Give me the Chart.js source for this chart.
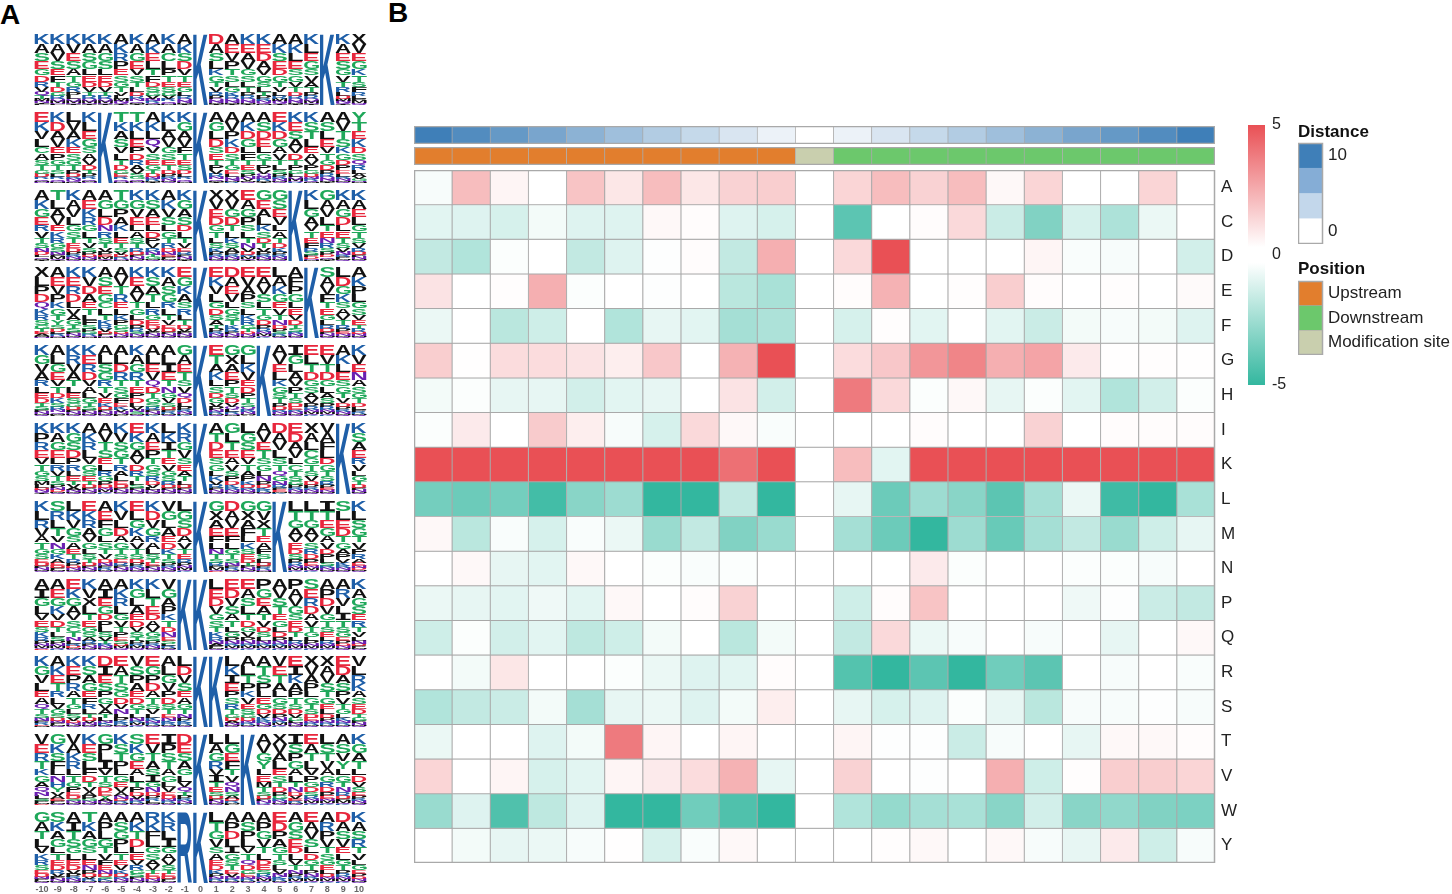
<!DOCTYPE html>
<html>
<head>
<meta charset="utf-8">
<script src="https://cdn.jsdelivr.net/npm/chart.js@4"></script>
<style>
  html, body { margin: 0; background: #fff; width: 1452px; height: 894px; overflow: hidden; }
  canvas { position: absolute; }
  .panel { position: absolute; font: bold 28px "Liberation Sans", sans-serif; color: #000; line-height: 28px; }
</style>
</head>
<body>
<div class="panel" style="left:0;top:1px">A</div>
<div class="panel" style="left:388px;top:-1px">B</div>
<script>
// heatmap, one array per amino acid, columns -10 .. 10
const residues = ["A","C","D","E","F","G","H","I","K","L","M","N","P","Q","R","S","T","V","W","Y"];
const positions = [-10,-9,-8,-7,-6,-5,-4,-3,-2,-1,0,1,2,3,4,5,6,7,8,9,10];
const valuesA = [-0.2,1.9,0.3,0,1.7,0.7,1.9,0.7,1.3,1.4,0,1.2,1.9,1.3,1.9,0.2,1.2,0,0,1.2,0];
const valuesC = [-0.7,-0.8,-1,-0.3,-0.8,-0.8,0.2,0.1,-0.8,-1,0,-4,0,0.1,1.1,-1.3,-3.1,-1,-2,-0.5,0];
const valuesD = [-1.5,-1.9,-0.1,0,-1.5,-0.8,-0.05,0.1,-1.5,2.3,0,1.1,5,0,0,0,0.3,-0.15,-0.2,0,-1.1];
const valuesE = [0.8,0,0.05,2.3,-0.1,0,-0.05,0,-1.7,-2.1,0,0.1,2.2,0,0.05,1.4,0.1,0,0.05,0,0.15];
const valuesF = [-0.5,0,-1.7,-1.2,0,-1.9,-0.6,-0.7,-2.2,-2,0,-1,0.05,-0.7,0,-0.7,-1.3,-0.3,-0.2,-0.3,-0.8];
const valuesG = [1.4,0.02,1,1,0.8,0.5,1.6,0,2.2,5,0,1,1.6,3,3.5,2.3,2.6,0.6,0.02,0.05,0.02];
const valuesH = [-0.3,-0.1,-0.6,-0.6,-1.1,-0.7,-0.6,0,0.8,-1.1,0,3.8,1.1,-0.1,0.2,-0.6,-0.1,-0.7,-1.9,-1.1,-0.1];
const valuesI = [-0.1,0.6,0,1.5,0.5,-0.2,-1,1.1,0.2,-0.15,0,0,0,0.1,0,0,1.3,0,0.1,0.1,0.1];
const valuesK = [5,5,5,5,5,5,5,5,4.1,5,0,1.9,-0.7,5,5,5,5,5,5,5,5];
const valuesL = [-3.4,-3.6,-3.4,-4.6,-2.9,-2.4,-5,-5,-1.5,-5,0,-0.6,-3.6,-2.4,-2.9,-4,-2.2,-0.5,-4.7,-5,-2.1];
const valuesM = [0.2,-1.7,-0.15,-1,-0.15,-0.5,-2.5,-1.5,-3.1,-2.5,0,-2.2,-3.6,-5,-2.4,-3.7,-2.2,-1.5,-2.5,-1.2,-0.6];
const valuesN = [0,0.2,-0.6,-0.7,0.2,0,-0.1,-0.15,-0.1,0,0,0,0,0.6,-0.1,0,0,-0.1,-0.1,-0.2,0];
const valuesP = [-0.5,-0.6,-0.7,-0.4,-0.7,0.2,0,0.1,1.3,0,0,-1.2,0.1,1.7,0,0,0,-0.4,-0.05,-1.3,-1.5];
const valuesQ = [-1.2,-0.1,-1.1,-0.7,-1.6,-1.2,-0.3,0,-1.7,-0.3,0,-1.5,1.1,-0.5,-0.2,0,-0.2,0,-0.6,0,0.2];
const valuesR = [0,-0.3,0.7,0,0,-0.1,-0.5,-0.8,-0.7,0.1,0,-4.2,-5,-4,-5,-3.5,-4,0,-0.2,0,-0.15];
const valuesS = [-1.9,-1.5,-1.3,-0.3,-2.2,-0.6,-0.5,-0.8,-0.3,0.5,0,-0.6,-1,-0.8,-0.1,-0.6,-1.7,-0.2,-0.2,-0.05,-0.2];
const valuesT = [-0.5,0,0,-0.8,-0.3,3.8,0.3,0,0.3,0,0,0.3,-0.05,-0.05,-1.3,-0.2,0,-0.6,0.2,0.2,0.1];
const valuesV = [1.2,0,0.3,-1,-0.7,0.3,0.6,1,2.2,-0.6,0,1.3,0,-0.05,0,2.3,-1.2,0.05,1.4,1.4,1.2];
const valuesW = [-2.5,-0.8,-4.3,-1.6,-0.8,-5,-5,-3.5,-4.3,-5,0,-1.9,-2.6,-2.2,-2.1,-2.9,-1.1,-2.9,-2.7,-3.1,-3.2];
const valuesY = [0,-0.3,-0.6,-0.5,-0.2,0.02,-1,-0.15,0.2,0,0,0,0.05,0.2,0,0.2,-0.2,-0.6,0.6,-1.2,-0.2];
const heatValues = [valuesA,valuesC,valuesD,valuesE,valuesF,valuesG,valuesH,valuesI,valuesK,valuesL,valuesM,valuesN,valuesP,valuesQ,valuesR,valuesS,valuesT,valuesV,valuesW,valuesY];

// annotation strips above the heatmap
const distance = [10,9,8,7,6,5,4,3,2,1,0,1,2,3,4,5,6,7,8,9,10];
const position = ["U","U","U","U","U","U","U","U","U","U","M","D","D","D","D","D","D","D","D","D","D"];
const distanceLegend = ["10","","","0"];
const distanceLegendColors = ["#3F7FB8","#85ADD6","#C3D7EB","#FFFFFF"];
const positionLegend = ["Upstream","Downstream","Modification site"];
const positionColors = { U: "#E27E2D", D: "#6CC86C", M: "#C9CFAE" };

// sequence logos: one stack per position, letters from top to bottom
const logo1 = "KASEGDRVQTMNIL KAVSEFTDGRQMNL KVESATGRPLQMNI KASGLEDVTRQMNI KAGSLEDVTRQMNI AKRPESGTVLMNQI KAGEVSTLDRNQMI AKELTFDSGVNRQM KACLPTESGVRQNM AKSDVTEGLRQNMI K DASLKGTVRPQNMI AEVPTSLGKRQNMI KEAVGSLTPRQNMI KEDAVGSLTPRNQM AKSEDGTVLRMNQI AKLESGVTDRQNMI KLEGSVATPRQMNI K KAESGVTRLDMNQI XVEGKTSFRLPMNQ";
const logo2 = "EKVLCASTGDRQMN KDAVEPGTSLRQNM LVAKESGTPDRNQM KLEGSAVDTPRQMN K TKASVLTDGERQNM TKLEPDRAVSGQMN AKLQVSEGTDNRMI KLAVGSETDPRNMQ KGAVFTESDLRQNM K AGLDSETPVRNQMI AVPKDSTGELQNMR AKDGLFTESPNVMQ ASDELGTPVQNRMI EKDGAVTLSPRNMQ KESAVDTPGLQMNR KSTLEAVPGDNRQM ASLEVTGDPRQNMI AVTSKGDPELRNMQ YTEKDSQRLAVGNM";
const logo3 = "AKGERVTSNDLQMI TLAVEKRGSNPMQI KAVLGSTEDPRNMQ AEKRGLTVSPDNMQ AGLDNRSTVPEMQI TGPAKLETSVDRNM KGVELASTRDPNMQ KSAELDPVRNTGMQ AKVSLGTRDNEPMQ KGASDLTVERPNMI K XVEDGTLSKPRNMQ XVGDTLKSAPRNMQ EAGPSLTNVDRMQI GEALKSDTVPRNMQ GSEVLATDKPRNMQ K KLGAVTEFRSPDNM GAVLTENRSPDQMI KAGDLETSVNRPMQ KAELGTSVRDPNMQ";
const logo4 = "XLPDQKRSGTEAMN AEVPKGTYSDLRNM KERDLVAGTSPNMQ KVDAETLFSPGRNM ASEGCLTKRVDPNM AVTRELKPGSDNMQ KEAVTGLDPRSNMQ KSATLRGEDVPNMQ KASGRLTVEDPNMQ EGKASRLTDVPNMQ K EKVLGDSATPRNMQ DAEVLGSTKRPNMQ EVAPSLKRGTDNMQ EAVSLTGDPRNMQK LAKGEVTNDPSRMQ AFPGLEVDTSRNMQ K SAVFTEGLRDPNMQ LDGKSAVTRPENMQ AKPLGSVETRDNMQ";
const logo5 = "KGVARLEDTSPNMQ ALGEVTDKSRNQMP KRVATLESGDPNMQ KERDVALGTSPNMQ ALSGRTVEKDPNMQ ALDRTSGFEKVNMP KAGRTEPDLVNSMQ ALEVQDTGSRPNMK ALIETNGVSDPRMQ GAETSVQDLPRNMK K ETAKLSDGVPNRMQ GXAEPTSDVQLRNM GLKVEDPTSQRNMA K AVELKGSTPDRNMQ IGLAVPTSDERNMQ ELTDGSAVPRNMQK EVTDGLASPRNMQK AKLESGTVDPRNMQ KVENASGTDLPRMQ";
const logo6 = "KPREVTGSMLDNQI KAGELRVTSPNDMQ KGSDPRLETVANMQ AKRLVGSETDPNMQ AVTSELRGPDNMQK KVSGTRALEDPNMQ EKGAVDRTLSPNMQ KAEPTGSRDVLNMQ LKITEVGSRDPNMQ KRGVSEATLDPNMQ K ATDESGLKVRPNMQ GLTEAVSPDKRNMQ LGSEVTAPKDRNMQ AVETSGLNPDKRMQ DAVLSTQGNRPEMK EDAVLCTSGPRNMQ XALCGTSVDPRNMQ VAFLDGTSRPENMQ K KSAERVLGTDPNMQ";
const logo7 = "KLRVATGSEDPNMQ SRLTVNGKAEDPMQ LKVGSAETRPDNMQ EKRAVGLSTDPNMQ AEFGLSTVDNPRMQ KVLDAGTSERPNMQ ELGKAVTSDPRNMQ KDVGRALSTEPNMQ VGLAEDKTSPRNMQ LGSDAVTERPNMQK K GXAEFLNTSRPMQD DAVEFLGTSNPRMQ GXAFLKSEDTPNMQ GVXTEAFSLDPRNM K LTGAVEDSPRNMQK LTGAVSRDPENMQK ITEGAVDPLSRNMQ SLEDTGAPVKRNMQ KLSGTVPRAENDMQ";
const logo8 = "AIGLVESKRPNMQD AEGKVDTLSPNMQR EKGAVSCTNLRDMQ KVXLTEGSARPNMQ AIEGDPLSVTRNMQ AKRLGVTPESDMNQ KGLAEDVSTPRMNQ KLTEDAVGSPRNMQ VGAPKTDNESLRMQ K K LEDVGSTKRNAPMQ EDVSATLGPNRMQK EASLTDGVPNRMQK PGEATVDSLNRMQK AVSTEGLDPNRMQK PAVGSEDTLRNMQK SERDAVTGLPNMQK APDVGTSELRNMQK ARVLITSGEPDNMQ KAGSERTVLNDPMQ";
const logo9 = "KGVLEAQTSNPRDM AKETRLVGSDNPMQ KEPRATGLSVDNMQ KSAGEFRLTDVNMQ DIESPGVATLNKMQ EATSGDVNLPKRMQ VSPAEDGTLNRMQK EGPDATSVLKNRMQ ALGVPDSTENKRMQ LDVSEAGTNPKRMQ K K LKIEPSRTGDANMQ ALTPKVESGDNRMQ ATSPLEGDVKRNMQ VETALGSDPNRMQK EIKAPTSDVGLNMQ XVAPLGTSDENRMQ XAVSTGELDPNRMQ EDASPVTGLKNRMQ VLRKASEDTGPNMQ";
const logo10 = "VERTKGAQNLSPMD GKSFLNHYVAEPMQ VAKRLTGPEDSNMQ KESLFDTVAPGNMQ GPLIVTSDEYANMQ KSTPLGEVANDRMQ SKGEALTPDVNRMQ EVTASIGNDPRLMQ IPSTAGLVEDNRMQ DESAGLVQTPRNMK K LAGRVITESDPNMQ LGEFTVQNSADRMP K AVGYLEMTSDPNRQ XVALESTDPGRNMQ ISPGALTNDVERMQ EATLVPGDSRNMQK LSTVAGRDPENMQK ASVYLGTNRDPMQK KGATLDVSEPRNMQ";
const logo11 = "GATLVKRSEDNPMQ SKAGLTEDRVPNMQ AITSGLEDVPRNMQ TKAGSLENPDVRMQ APLGTVFENDSKMQ ASGPLTEVKDRNMQ AKTDLEVRGSPNMQ RKFLGSAVTEDNMQ KRLIGAVSTEDPMQ R K LTGVSAEDKPNRMQ APDLIGSTEVNRMQ ASPLVTQDGENRMQ APGVTLDESRNMQK EDPAGTSLVNKRMQ AGSEDLVTNPRMQK EAVSLDGTPNRMQK ARPVTSGELDNMQK DASVELGTPRNMQK KASRTVLGEPDNMQ";
const logos = [logo1,logo2,logo3,logo4,logo5,logo6,logo7,logo8,logo9,logo10,logo11];
// share of the column height for each letter rank, top letter first
const letterShare = [0.15,0.125,0.115,0.105,0.095,0.085,0.075,0.065,0.055,0.045,0.035,0.025,0.015,0.01];

const fontFamily = '"Liberation Sans", Arimo, Helvetica, sans-serif';
const gridGrey = "#A9A9A9";
const red = [233,80,85], green = [51,183,159], blue = [63,127,184];

function mix(rgb, t) {
  return "rgb(" + rgb.map(c => Math.round(255 + (c - 255) * t)).join(",") + ")";
}
function heatColor(v) {
  return v >= 0 ? mix(red, Math.min(v / 5, 1)) : mix(green, Math.min(-v / 5, 1));
}
function residueColor(l) {
  if ("KRH".includes(l)) return "#1F5FA8";
  if ("DE".includes(l)) return "#E8263C";
  if ("GSTYC".includes(l)) return "#1FA85A";
  if ("NQ".includes(l)) return "#6A1FB0";
  return "#111111";
}

function addCanvas(left, top, width, height) {
  var c = document.createElement("canvas");
  c.width = width;
  c.height = height;
  c.style.left = left + "px";
  c.style.top = top + "px";
  document.body.appendChild(c);
  return c;
}

// grey frame round the plot area
const framePlugin = {
  id: "frame",
  afterDraw(chart) {
    var a = chart.chartArea, ctx = chart.ctx;
    ctx.save();
    ctx.strokeStyle = gridGrey;
    ctx.lineWidth = 1.5;
    ctx.strokeRect(a.left + 0.5, a.top + 0.5, a.right - a.left - 1, a.bottom - a.top - 1);
    ctx.restore();
  }
};

// paints each letter stretched into its own stacked bar
const letterPlugin = {
  id: "letters",
  afterDatasetsDraw(chart) {
    var ctx = chart.ctx;
    chart.data.datasets.forEach(function (ds, d) {
      chart.getDatasetMeta(d).data.forEach(function (bar, i) {
        var l = ds.letters[i];
        var h = Math.abs(bar.base - bar.y);
        if (!l || h < 0.2) return;
        var w = bar.width * 0.96;
        ctx.save();
        // the mono face gives I its serifs, as in the logo font
        ctx.font = l === "I" ? 'bold 40px "DejaVu Sans Mono"' : "bold 40px " + fontFamily;
        ctx.fillStyle = residueColor(l);
        var m = ctx.measureText(l);
        var gw = m.actualBoundingBoxLeft + m.actualBoundingBoxRight;
        var gh = m.actualBoundingBoxAscent + m.actualBoundingBoxDescent;
        ctx.translate(bar.x - w / 2, Math.min(bar.y, bar.base));
        ctx.scale(w / gw, h / gh);
        ctx.fillText(l, m.actualBoundingBoxLeft, m.actualBoundingBoxAscent);
        ctx.restore();
      });
    });
  }
};

// panel A
logos.forEach(function (logo, n) {
  var stacks = logo.split(" ");
  var last = n === logos.length - 1;
  var datasets = letterShare.map(function (share, rank) {
    return {
      data: stacks.map(s => s.length === 1 ? (rank === 0 ? 1 : 0) : share),
      letters: stacks.map(s => s[rank] || ""),
      backgroundColor: "transparent",
      barPercentage: 1,
      categoryPercentage: 1
    };
  }).reverse();
  var canvas = addCanvas(34, Math.round(33 + n * 77.8), 333, last ? 84 : 72);
  canvas.style.filter = "blur(0.5px)"; // the logos are soft in the original
  new Chart(canvas, {
    type: "bar",
    data: { labels: positions, datasets: datasets },
    plugins: [letterPlugin],
    options: {
      responsive: false,
      animation: false,
      plugins: { legend: { display: false }, tooltip: { enabled: false } },
      scales: {
        x: {
          stacked: true,
          display: last,
          grid: { display: false, tickLength: 0 },
          border: { display: false },
          ticks: { color: "#666666", padding: 1, maxRotation: 0, autoSkip: false, font: { family: fontFamily, size: 9, weight: "bold" } },
          afterFit(s) { if (last) s.height = 12; }
        },
        y: { stacked: true, display: false, min: 0, max: 1 }
      }
    }
  });
});

// panel B heatmap
new Chart(addCanvas(414, 170, 831, 693), {
  type: "bar",
  data: {
    labels: positions,
    datasets: heatValues.map(function (row, r) {
      return {
        label: residues[r],
        data: row.map(() => 1),
        backgroundColor: row.map(heatColor),
        borderColor: gridGrey,
        borderWidth: 0.85,
        borderSkipped: false,
        barPercentage: 1,
        categoryPercentage: 1
      };
    })
  },
  plugins: [framePlugin],
  options: {
    responsive: false,
    animation: false,
    plugins: { legend: { display: false }, tooltip: { enabled: false } },
    scales: {
      x: { stacked: true, display: false },
      y: {
        stacked: true,
        reverse: true,
        min: 0,
        max: residues.length,
        position: "right",
        grid: { display: false, tickLength: 0 },
        border: { display: false },
        afterBuildTicks(axis) { axis.ticks = residues.map((r, i) => ({ value: i + 0.5 })); },
        afterFit(s) { s.width = 30; s.paddingTop = 0; s.paddingBottom = 0; },
        ticks: {
          padding: 6,
          color: "#222222",
          font: { family: fontFamily, size: 17 },
          callback: v => residues[v - 0.5]
        }
      }
    }
  }
});

// one-row annotation strip
function strip(top, colors) {
  new Chart(addCanvas(414, top, 801, 18), {
    type: "bar",
    data: {
      labels: positions,
      datasets: [{
        data: positions.map(() => 1),
        backgroundColor: colors,
        borderColor: gridGrey,
        borderWidth: 0.7,
        borderSkipped: false,
        barPercentage: 1,
        categoryPercentage: 1
      }]
    },
    plugins: [framePlugin],
    options: {
      responsive: false,
      animation: false,
      plugins: { legend: { display: false }, tooltip: { enabled: false } },
      scales: { x: { display: false }, y: { display: false, min: 0, max: 1 } }
    }
  });
}
strip(126, distance.map(d => mix(blue, d / 10)));
strip(147, position.map(p => positionColors[p]));

// colour bar
new Chart(addCanvas(1240, 105, 60, 300), {
  type: "bar",
  data: {
    labels: ["scale"],
    datasets: [{
      data: [[-5, 5]],
      barPercentage: 1,
      categoryPercentage: 1,
      backgroundColor(ctx) {
        var a = ctx.chart.chartArea;
        if (!a) return "#fff";
        var g = ctx.chart.ctx.createLinearGradient(0, a.top, 0, a.bottom);
        g.addColorStop(0, "#E95055");
        g.addColorStop(0.47, "#FFFFFF");
        g.addColorStop(0.53, "#FFFFFF");
        g.addColorStop(1, "#33B79F");
        return g;
      }
    }]
  },
  options: {
    responsive: false,
    animation: false,
    layout: { padding: { left: 8, top: 20, bottom: 20 } },
    plugins: { legend: { display: false }, tooltip: { enabled: false } },
    scales: {
      x: { display: false },
      y: {
        position: "right",
        min: -5,
        max: 5,
        grid: { display: false, tickLength: 0 },
        border: { display: false },
        afterBuildTicks(axis) { axis.ticks = [{ value: 5 }, { value: 0 }, { value: -5 }]; },
        afterFit(s) { s.width = 35; s.paddingTop = 0; s.paddingBottom = 0; },
        ticks: { padding: 7, color: "#222222", font: { family: fontFamily, size: 16 } }
      }
    }
  }
});

// block legends
function blockLegend(top, height, title, labels, colors, edgeWidth, padBottom) {
  new Chart(addCanvas(1298, top, 154, height), {
    type: "bar",
    data: {
      labels: labels,
      datasets: [{
        data: labels.map(() => 1),
        backgroundColor: colors,
        borderColor: gridGrey,
        borderWidth: edgeWidth,
        borderSkipped: false,
        barPercentage: 1,
        categoryPercentage: 1
      }]
    },
    plugins: [framePlugin],
    options: {
      indexAxis: "y",
      responsive: false,
      animation: false,
      plugins: {
        legend: { display: false },
        tooltip: { enabled: false },
        title: {
          display: true,
          text: title,
          align: "start",
          color: "#111111",
          padding: { top: 0, bottom: padBottom },
          font: { family: fontFamily, size: 17, weight: "bold", lineHeight: 1.2 }
        }
      },
      scales: {
        x: { display: false, min: 0, max: 1 },
        y: {
          position: "right",
          grid: { display: false, tickLength: 0 },
          border: { display: false },
          afterFit(s) { s.width = 129; s.paddingTop = 0; s.paddingBottom = 0; },
          ticks: { padding: 5, autoSkip: false, color: "#222222", font: { family: fontFamily, size: 17 } }
        }
      }
    }
  });
}
blockLegend(122, 122, "Distance", distanceLegend, distanceLegendColors, 0, 0.6);
blockLegend(259, 96, "Position", positionLegend, positionLegend.map((p, i) => positionColors["UDM"[i]]), 0.5, 1.6);
</script>
</body>
</html>
